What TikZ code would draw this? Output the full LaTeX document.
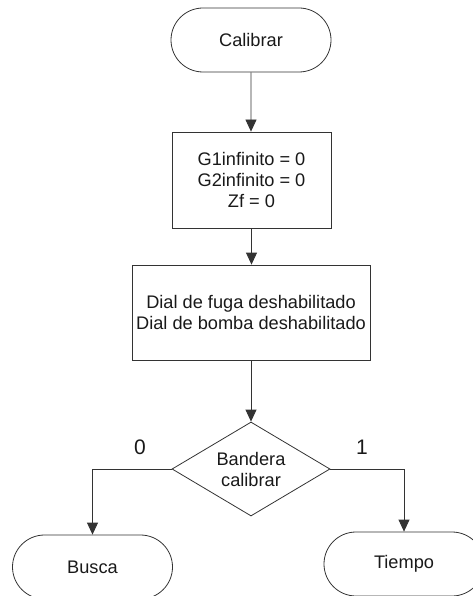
\documentclass[tikz,border=0pt]{standalone}
\usepackage{fontspec}
\setmainfont{Liberation Sans}
\usetikzlibrary{shapes.misc, shapes.geometric, arrows.meta}
\begin{document}
\begin{tikzpicture}[x=1pt, y=1pt, line width=0.8pt,
  every node/.style={font=\fontsize{18.2}{21}\selectfont, text=black!90, align=center},
  terminal/.style={draw=black!80, rounded rectangle, minimum width=160pt, minimum height=64pt, inner sep=0pt},
  procbox/.style={draw=black!80, rectangle, inner sep=0pt},
  decision/.style={draw=black!80, diamond, aspect=1.68, minimum width=158pt, minimum height=94pt, inner sep=1pt},
  flow/.style={draw=black!80, -{Triangle[length=12pt, width=11pt]}}]
\useasboundingbox (0,0) rectangle (472,-596);
% Main column
\node[terminal] (calibrar) at (251,-40) {Calibrar};
\node[procbox, minimum width=159pt, minimum height=96pt] (ceros) at (251.5,-180) {G1infinito = 0\\G2infinito = 0\\Zf = 0};
\node[procbox, minimum width=238pt, minimum height=95pt] (diales) at (251,-312.5) {Dial de fuga deshabilitado\\Dial de bomba deshabilitado};
\node[decision] (bandera) at (251,-469) {Bandera\\calibrar};
% Branch targets
\node[terminal] (busca) at (92.5,-567) {Busca};
\node[terminal] (tiempo) at (404,-564) {Tiempo};
\node[font=\fontsize{21}{24}\selectfont] (cero) at (140,-447) {0};
\node[font=\fontsize{21}{24}\selectfont] (uno) at (362,-447) {1};
% Connectors
\draw[flow] (calibrar) -- (calibrar |- ceros.north);
\draw[flow] (ceros) -- (ceros.south |- diales.north);
\draw[flow] (diales) -- (bandera);
\draw[flow] (bandera.west) -| (busca.north);
\draw[flow] (bandera.east) -| (tiempo.north);
\end{tikzpicture}
\end{document}
